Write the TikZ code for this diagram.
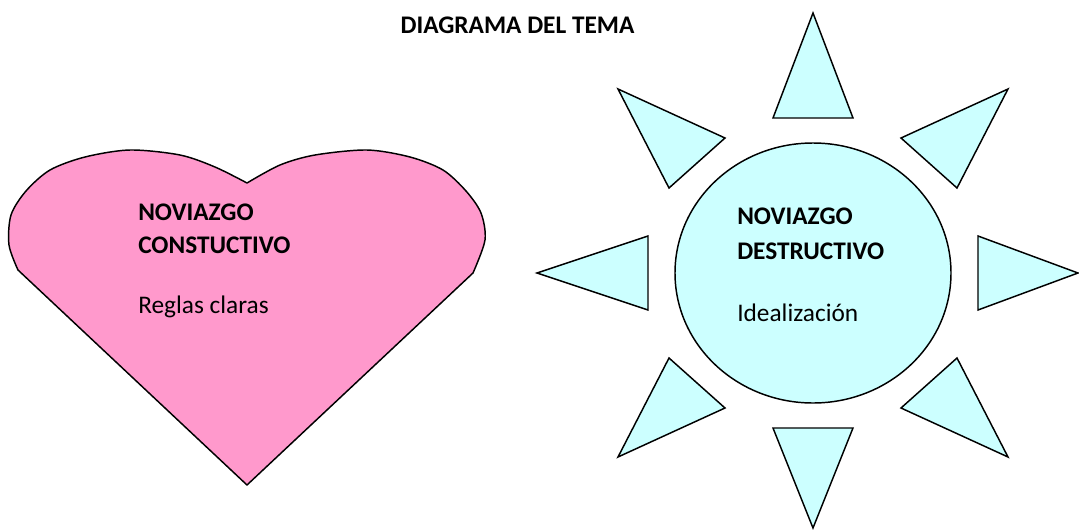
\documentclass[tikz,border=0pt]{standalone}
\usepackage{fontspec}
\setmainfont{Carlito}
\definecolor{heartpink}{RGB}{255,153,204}
\definecolor{suncyan}{RGB}{204,255,255}
\tikzset{
  heart/.style={draw=black, line width=1.1pt, fill=heartpink, line join=round},
  sunbody/.style={draw=black, line width=1.1pt, fill=suncyan},
  ray/.style={draw=black, line width=1.1pt, fill=suncyan, line join=miter},
  headtext/.style={anchor=base west, inner sep=0pt, font=\fontsize{19}{23}\selectfont\bfseries},
  bodytext/.style={anchor=base west, inner sep=0pt, font=\fontsize{19}{23}\selectfont}
}
\begin{document}
\begin{tikzpicture}[x=0.75pt,y=0.75pt,yscale=-1]
	\useasboundingbox (0,0) rectangle (1079,529);
	% title
	\node (title) [headtext, anchor=base] at (517.5,33) {DIAGRAMA DEL TEMA};
	% heart
	\draw [heart] (247,485) -- plot[smooth] coordinates {(18,270) (9,245) (11,215) (26,191) (50,170) (85,157) (130,150) (180,155) (215,167) (247,183)}
		-- plot[smooth] coordinates {(247,183) (280,165) (315,155) (367,150) (410,157) (443,170) (466,191) (481,213) (485,240) (473,273)} -- cycle ;
	\node (hone) [headtext] at (138,220) {NOVIAZGO};
	\node (htwo) [headtext] at (138,253) {CONSTUCTIVO};
	\node (hrule) [bodytext] at (138,313) {Reglas claras};
	% sun
	\draw [sunbody] (813,273) ellipse [x radius=138, y radius=130] ;
	\draw [ray] (813,13) -- (773,118) -- (853,118) -- cycle ;
	\draw [ray] (813,528) -- (773,428) -- (853,428) -- cycle ;
	\draw [ray] (537,273) -- (648,236) -- (648,310) -- cycle ;
	\draw [ray] (1078,273) -- (978,236) -- (978,310) -- cycle ;
	\draw [ray] (618,89) -- (725,138) -- (669,188) -- cycle ;
	\draw [ray] (1008,89) -- (901,138) -- (957,188) -- cycle ;
	\draw [ray] (618,457) -- (725,408) -- (669,358) -- cycle ;
	\draw [ray] (1008,457) -- (901,408) -- (957,358) -- cycle ;
	\node (sone) [headtext] at (737,224) {NOVIAZGO};
	\node (stwo) [headtext] at (737,259) {DESTRUCTIVO};
	\node (sidea) [bodytext] at (737,321) {Idealización};
\end{tikzpicture}
\end{document}
